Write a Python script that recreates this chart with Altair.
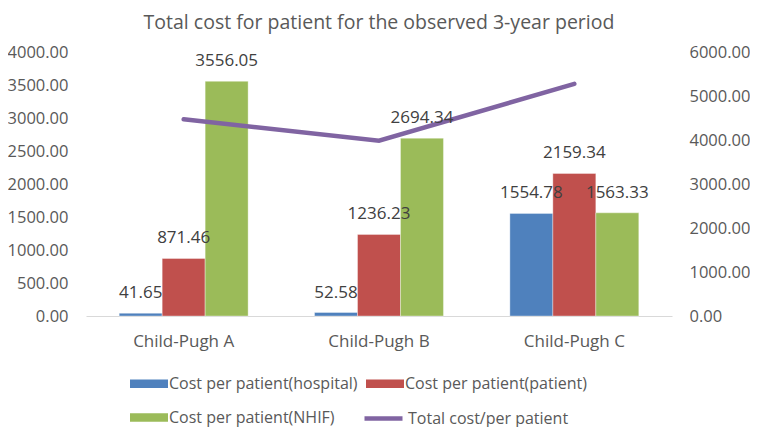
import altair as alt
import pandas as pd

categories = ["Child-Pugh A", "Child-Pugh B", "Child-Pugh C"]
series_names = ["Cost per patient(hospital)", "Cost per patient(patient)", "Cost per patient(NHIF)"]
hospital = [41.65, 52.58, 1554.78]
patient = [871.46, 1236.23, 2159.34]
nhif = [3556.05, 2694.34, 1563.33]
total_name = "Total cost/per patient"
total = [4469.16, 3983.15, 5277.45]
left_ticks = [0, 500, 1000, 1500, 2000, 2500, 3000, 3500, 4000]
right_ticks = [0, 1000, 2000, 3000, 4000, 5000, 6000]

colors = ["#4F81BD", "#C0504D", "#9BBB59"]
line_color = "#8064A2"
FONT = "Open Sans"
GRAY = "#595959"

rows = []
for s, vals in zip(series_names, [hospital, patient, nhif]):
    for c, v in zip(categories, vals):
        rows.append({"category": c, "series": s, "value": v})
bars_df = pd.DataFrame(rows)
line_df = pd.DataFrame({"category": categories, "total": total, "name": [total_name] * 3})

x_enc = alt.X(
    "category:N", sort=categories, title=None,
    scale=alt.Scale(paddingInner=0.34, paddingOuter=0.17),
    axis=alt.Axis(labelAngle=0, domainColor="#D9D9D9", domainWidth=1, ticks=False,
                  labelPadding=17, labelFontSize=17, labelColor=GRAY, labelFont=FONT),
)
xoff = alt.XOffset("series:N", sort=series_names, scale=alt.Scale(paddingInner=0, paddingOuter=0))
left_scale = alt.Scale(domain=[0, 4000], nice=False)

bars = alt.Chart(bars_df).mark_bar(stroke="white", strokeWidth=0.8, strokeOpacity=0.45).encode(
    x=x_enc,
    xOffset=xoff,
    y=alt.Y("value:Q", scale=left_scale, title=None,
            axis=alt.Axis(values=left_ticks, format=".2f", domain=False, ticks=False, grid=False,
                          labelPadding=18, labelFontSize=16.5, labelColor=GRAY, labelFont=FONT)),
    fill=alt.Fill("series:N", sort=series_names,
                  scale=alt.Scale(domain=series_names, range=colors),
                  legend=alt.Legend(title=None, orient="none", legendX=44, legendY=322, columns=2,
                                    direction="horizontal",
                                    symbolType="M-1,-0.45H3V0.45H-1Z", symbolSize=361,
                                    symbolStrokeWidth=0, labelOffset=20, columnPadding=8,
                                    rowPadding=16, labelFontSize=16, labelFont=FONT,
                                    labelColor=GRAY, labelLimit=400)),
)

labels = alt.Chart(bars_df).mark_text(baseline="alphabetic", dy=-15, fontSize=17, font=FONT,
                                      color="#404040").encode(
    x=alt.X("category:N", sort=categories),
    xOffset=xoff,
    y=alt.Y("value:Q", scale=left_scale, axis=None),
    text=alt.Text("value:Q", format=".2f"),
)

line = alt.Chart(line_df).mark_line(strokeWidth=4.5, strokeCap="round").encode(
    x=alt.X("category:N", sort=categories),
    y=alt.Y("total:Q", scale=alt.Scale(domain=[0, 6000], nice=False), title=None,
            axis=alt.Axis(orient="right", values=right_ticks, format=".2f", domain=False,
                          ticks=False, grid=False, labelPadding=17, labelFontSize=16.5,
                          labelColor=GRAY, labelFont=FONT)),
    stroke=alt.Stroke("name:N", scale=alt.Scale(domain=[total_name], range=[line_color]),
                      legend=alt.Legend(title=None, orient="none", legendX=276, legendY=345,
                                        symbolType="stroke", symbolSize=1444,
                                        symbolStrokeWidth=4.5, labelOffset=3,
                                        labelFontSize=16, labelFont=FONT, labelColor=GRAY,
                                        labelLimit=400)),
)

chart = alt.layer(bars, line, labels).resolve_scale(y="independent").properties(
    width=586, height=264,
    autosize=alt.AutoSizeParams(type="none"),
    padding={"left": 78, "top": 44, "right": 78, "bottom": 111},
    title=alt.TitleParams("Total cost for patient for the observed 3-year period",
                          fontSize=19.5, font=FONT, color=GRAY, fontWeight="normal",
                          anchor="middle", frame="group", offset=11),
).configure_view(stroke=None)

chart.save("out.html", embed_options={"renderer": "svg", "actions": False})
